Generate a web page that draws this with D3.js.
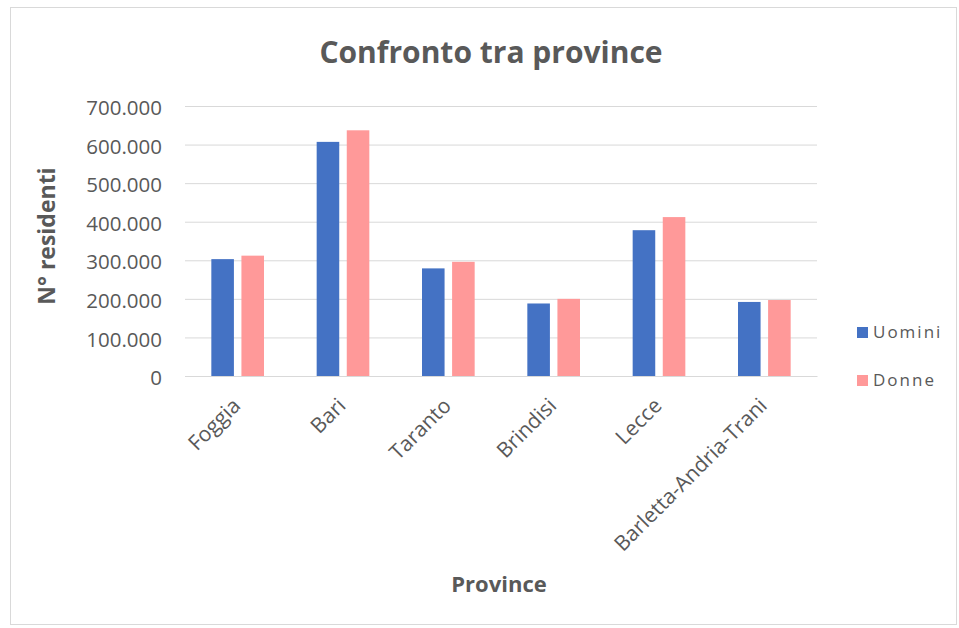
<!DOCTYPE html>
<html>
<head>
<meta charset="utf-8">
<script src="https://cdn.jsdelivr.net/npm/d3@7"></script>
<style>
  body { margin: 0; background: #fff; }
  svg { display: block; }
  text { font-family: 'Open Sans', sans-serif; fill: #595959; }
</style>
</head>
<body>
<svg id="chart" width="959" height="628"></svg>
<script>
const province = ["Foggia", "Bari", "Taranto", "Brindisi", "Lecce", "Barletta-Andria-Trani"];
const uomini = [303000, 607000, 279000, 188000, 378000, 192000];
const donne = [312000, 637000, 296000, 200000, 412000, 197000];
const serie = ["Uomini", "Donne"];
const colori = ["#4472C4", "#FF9999"];
const yTicks = [0, 100000, 200000, 300000, 400000, 500000, 600000, 700000];

const svg = d3.select("#chart");
const plotL = 185, plotR = 817, plotT = 106, plotB = 376;

// chart frame
svg.append("rect")
  .attr("x", 10.5).attr("y", 7.5)
  .attr("width", 946).attr("height", 617)
  .attr("fill", "#fff").attr("stroke", "#d9d9d9");

const x = d3.scaleBand().domain(province).range([plotL, plotR]).paddingInner(0.5).paddingOuter(0.25);
const x1 = d3.scaleBand().domain(serie).range([0, x.bandwidth()]).paddingInner(0.25);
const y = d3.scaleLinear().domain([0, 700000]).range([plotB, plotT]);

const fmt = d => d3.format(",")(d).replace(/,/g, ".");

// gridlines + y labels
const yAxis = svg.append("g")
  .attr("transform", `translate(${plotL},0)`)
  .call(d3.axisLeft(y).tickValues(yTicks).tickSize(-(plotR - plotL)).tickFormat(fmt).tickPadding(23));
yAxis.select(".domain").remove();
yAxis.selectAll(".tick line").attr("stroke", "#d9d9d9");
yAxis.selectAll(".tick text")
  .style("font-size", "20.5px")
  .attr("dy", "0.42em");

// bars
const data = province.map((p, i) => ({ p, vals: [uomini[i], donne[i]] }));
const groups = svg.append("g").selectAll("g")
  .data(data).join("g")
  .attr("transform", d => `translate(${x(d.p)},0)`);
groups.selectAll("rect")
  .data(d => d.vals.map((v, j) => ({ s: serie[j], v, c: colori[j] })))
  .join("rect")
  .attr("x", d => x1(d.s))
  .attr("width", x1.bandwidth())
  .attr("y", d => y(d.v))
  .attr("height", d => y(0) - y(d.v))
  .attr("fill", d => d.c);

// x axis
const xAxis = svg.append("g")
  .attr("transform", `translate(0,${plotB})`)
  .call(d3.axisBottom(x).tickSize(0).tickPadding(0));
xAxis.select(".domain").attr("stroke", "#d9d9d9");
xAxis.selectAll(".tick text")
  .style("font-size", "21px")
  .attr("text-anchor", "end")
  .attr("dy", null)
  .attr("transform", "translate(4,31) rotate(-45)");

// title
svg.append("text")
  .attr("x", 491).attr("y", 63)
  .attr("text-anchor", "middle")
  .style("font-size", "30px")
  .style("font-weight", "bold")
  .text("Confronto tra province");

// axis titles
svg.append("text")
  .attr("transform", "translate(55,236) rotate(-90)")
  .attr("text-anchor", "middle")
  .style("font-size", "23px")
  .style("font-weight", "bold")
  .text("N° residenti");

svg.append("text")
  .attr("x", 499).attr("y", 592)
  .attr("text-anchor", "middle")
  .style("font-size", "22px")
  .style("font-weight", "bold")
  .text("Province");

// legend
const legend = svg.append("g").selectAll("g")
  .data(serie).join("g")
  .attr("transform", (d, i) => `translate(857,${327 + i * 48})`);
legend.append("rect")
  .attr("width", 11).attr("height", 11)
  .attr("fill", (d, i) => colori[i]);
legend.append("text")
  .attr("x", 16).attr("y", 11)
  .style("font-size", "17px")
  .style("letter-spacing", "2px")
  .text(d => d);
</script>
</body>
</html>
